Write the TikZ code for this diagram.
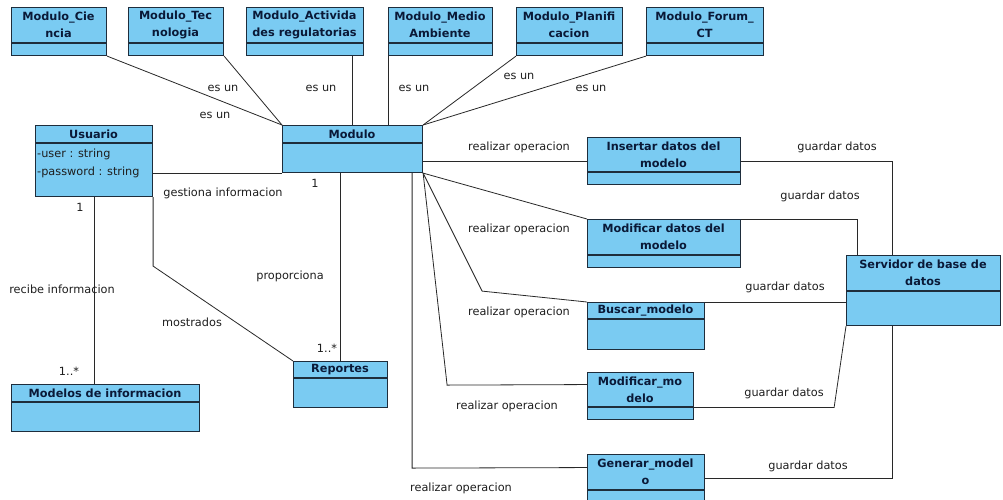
\documentclass[tikz,border=0pt]{standalone}
\usepackage{fontspec}
\setmainfont{DejaVu Sans}
\definecolor{boxfill}{RGB}{122,203,242}
\definecolor{boxline}{RGB}{30,45,60}
\definecolor{titlec}{RGB}{10,25,55}
\definecolor{linec}{RGB}{40,40,40}
\definecolor{txtc}{RGB}{30,30,30}
\newcommand{\umlclass}[7]{%
  \node[cls, minimum width={(#4-#2)*1pt}, minimum height={(#5-#3)*1pt}] (#1) at (#2,#3) {};
  \draw[boxline, line width=1.1pt] ([yshift={-(#6-#3)*1pt}]#1.north west) -- ([yshift={-(#6-#3)*1pt}]#1.north east);
  \node[ttl] (#1t) at ({(#2+#4)/2},{(#3+#6)/2}) {#7};
}
\begin{document}
\begin{tikzpicture}[x=1pt,y=-1pt,
  cls/.style={draw=boxline, fill=boxfill, line width=1.1pt, rectangle, inner sep=0pt, anchor=north west},
  ttl/.style={font=\fontsize{11.3}{17}\selectfont\bfseries, text=titlec, align=center, inner sep=0pt},
  lbl/.style={font=\fontsize{11.3}{13}\selectfont, text=txtc, inner sep=0pt, text height=8.5pt, text depth=2.5pt},
  con/.style={draw=linec, line width=0.8pt}]
\useasboundingbox (0,0) rectangle (1003,499);
\clip (0,0) rectangle (1003,499);
\fill[white] (0,0) rectangle (1003,499);

\umlclass{cie}{11}{7}{106}{55}{43}{Modulo\_Cie\\ncia}
\umlclass{tec}{128}{7}{223}{55}{43}{Modulo\_Tec\\nologia}
\umlclass{act}{246}{7}{363}{55}{43}{Modulo\_Activida\\des regulatorias}
\umlclass{med}{388}{7}{492}{55}{43}{Modulo\_Medio\\Ambiente}
\umlclass{pla}{516}{7}{622}{55}{43}{Modulo\_Planifi\\cacion}
\umlclass{frm}{646}{7}{763}{55}{43}{Modulo\_Forum\_\\CT}
\umlclass{usu}{35}{125}{152}{196}{143}{Usuario}
\umlclass{mod}{282}{125}{422}{172}{143}{Modulo}
\umlclass{rep}{293}{361}{387}{407}{378}{Reportes}
\umlclass{mdi}{11}{384}{199}{431}{402}{Modelos de informacion}
\umlclass{ins}{587}{137}{740}{184}{172}{Insertar datos del\\modelo}
\umlclass{mfd}{587}{219}{740}{267}{255}{Modificar datos del\\modelo}
\umlclass{srv}{846}{255}{1000}{325}{291}{Servidor de base de\\datos}
\umlclass{bus}{587}{302}{704}{349}{319}{Buscar\_modelo}
\umlclass{mfm}{587}{372}{693}{419}{407}{Modificar\_mo\\delo}
\umlclass{gen}{587}{454}{704}{502}{490}{Generar\_model\\o}

\node[lbl, anchor=west] (ua1) at (37,154) {-user : string};
\node[lbl, anchor=west] (ua2) at (37,172) {-password : string};

% connectors
\draw[con] (cie.south east) -- (mod.north west);
\draw[con] (tec.south east) -- (mod.north west);
\draw[con] ([xshift=47.5pt]act.south) -- ([xshift=47.5pt]act.south |- mod.north);
\draw[con] (med.south west) -- (med.south west |- mod.north);
\draw[con] (pla.south west) -- (mod.north east);
\draw[con] (frm.south west) -- (mod.north east);
\draw[con] (mod.south west -| usu.east) -- (mod.south west);
\draw[con] (usu.south) -- (usu.south |- mdi.north);
\draw[con] (usu.south east) -- ++(0,69) -- (rep.north west);
\draw[con] (rep.north |- mod.south) -- (rep.north);
\draw[con] (ins.west -| mod.east) -- (ins.west);
\draw[con] (ins.east) -- ([xshift=-31pt]srv.north |- ins.east) -- ([xshift=-31pt]srv.north);
\draw[con] (mod.south east) -- (mfd.north west);
\draw[con] (mfd.north east) -- ([xshift=11pt]srv.north west |- mfd.north east) -- ([xshift=11pt]srv.north west);
\draw[con] (mod.south east) -- ++(59,118) -- (bus.north west);
\draw[con] (bus.north east) -- (srv.west |- bus.north east);
\draw[con] (mod.south east) -- ++(24,212) -- ([yshift=11.5pt]mfm.west);
\draw[con] ([yshift=-11.5pt]mfm.east) -- ++(140,0) -- (srv.south west);
\draw[con] ([xshift=-11pt]mod.south east) -- ++(0,295) -- ([yshift=11pt]gen.west);
\draw[con] (gen.east) -- ([xshift=-31pt]srv.south |- gen.east) -- ([xshift=-31pt]srv.south);

% labels
\node[lbl] (e1) at (223,88) {es un};
\node[lbl] (e2) at (215,115) {es un};
\node[lbl] (e3) at (321,88) {es un};
\node[lbl] (e4) at (414,88) {es un};
\node[lbl] (e5) at (519,76) {es un};
\node[lbl] (e6) at (591,88) {es un};
\node[lbl] (g1) at (223,193) {gestiona informacion};
\node[lbl] (m1) at (315,184) {1};
\node[lbl] (m2) at (80,208) {1};
\node[lbl] (ri) at (62,290) {recibe informacion};
\node[lbl] (m3) at (69,372) {1..*};
\node[lbl] (mo) at (192,323) {mostrados};
\node[lbl] (pr) at (290,276) {proporciona};
\node[lbl] (m4) at (327,349) {1..*};
\node[lbl] (r1) at (519,147) {realizar operacion};
\node[lbl] (r2) at (519,229) {realizar operacion};
\node[lbl] (r3) at (519,312) {realizar operacion};
\node[lbl] (r4) at (507,406) {realizar operacion};
\node[lbl] (r5) at (461,488) {realizar operacion};
\node[lbl] (d1) at (837,147) {guardar datos};
\node[lbl] (d2) at (820,196) {guardar datos};
\node[lbl] (d3) at (785,287) {guardar datos};
\node[lbl] (d4) at (784,393) {guardar datos};
\node[lbl] (d5) at (808,466) {guardar datos};
\end{tikzpicture}
\end{document}
